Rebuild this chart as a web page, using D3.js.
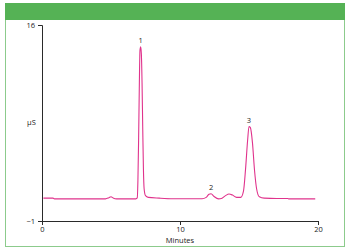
<!DOCTYPE html>
<html>
<head>
<meta charset="utf-8">
<script src="https://cdn.jsdelivr.net/npm/d3@7"></script>
<style>
  body { margin: 0; background: #fff; }
  svg { display: block; font-family: "Open Sans", sans-serif; }
  .axis path, .axis line { stroke: #2a2a2a; }
  .axis text { fill: #222; font-size: 7.5px; font-family: "Open Sans", sans-serif; }
</style>
</head>
<body>
<svg id="chart"></svg>
<script>
// chromatogram: time in minutes, conductivity in µS
const TIME = [0.1, 0.8, 0.9, 4.6, 4.85, 5.0, 5.15, 5.4, 6.8, 6.9, 6.95, 7.0, 7.05, 7.1, 7.15, 7.2,
  7.25, 7.3, 7.35, 7.4, 7.5, 7.7, 8.5, 9.5, 11.6, 11.9, 12.1, 12.25, 12.45, 12.8, 13.0, 13.3,
  13.55, 13.8, 14.1, 14.4, 14.6, 14.75, 14.9, 15.0, 15.1, 15.25, 15.4, 15.55, 15.75, 16.1, 17.0,
  17.8, 17.9, 19.8]
const SIGNAL = [0.98, 0.98, 0.92, 0.92, 1.02, 1.1, 1.0, 0.92, 0.92, 1.0, 2.5, 6, 10.5, 13.8, 14.1, 13.5,
  11, 7, 3.5, 1.8, 1.2, 1.05, 0.98, 0.93, 0.93, 1.05, 1.32, 1.36, 1.15, 0.92, 0.95, 1.2,
  1.34, 1.25, 1.05, 1.05, 1.6, 3.5, 6, 7.2, 7.1, 5.8, 3.4, 1.8, 1.1, 0.98, 0.95,
  0.95, 0.92, 0.92]
const PEAKS = [
  { label: '1', time: 7.15, value: 14.1 },
  { label: '2', time: 12.25, value: 1.36 },
  { label: '3', time: 15.0, value: 7.2 }
]
const X_TICKS = [0, 10, 20]
const Y_TICKS = [16, -1]

const width = 350
const height = 252

const svg = d3.select('#chart')
  .attr('width', width)
  .attr('height', height)

// frame with green header band
svg.append('rect')
  .attr('x', 5.5).attr('y', 3.5)
  .attr('width', 339).attr('height', 243)
  .attr('fill', '#fff')
  .attr('stroke', '#8ccb8c')
svg.append('rect')
  .attr('x', 5).attr('y', 3)
  .attr('width', 340).attr('height', 17)
  .attr('fill', '#55b255')

const x = d3.scaleLinear().domain([0, 20]).range([42, 318])
const y = d3.scaleLinear().domain([-1, 16]).range([221, 25])

svg.append('g')
  .attr('class', 'axis')
  .attr('transform', `translate(0,${y(-1)})`)
  .call(d3.axisBottom(x).tickValues(X_TICKS).tickSize(4).tickSizeOuter(4).tickFormat(d3.format('d')))
  .call(g => g.selectAll('text').attr('y', 5).attr('dy', '0.8em'))

svg.append('g')
  .attr('class', 'axis')
  .attr('transform', `translate(${x(0)},0)`)
  .call(d3.axisLeft(y).tickValues(Y_TICKS).tickSize(4).tickSizeOuter(4)
    .tickFormat(d => d < 0 ? '\u2212' + Math.abs(d) : d))

svg.append('text')
  .attr('x', x(10)).attr('y', 243)
  .attr('text-anchor', 'middle')
  .style('font-size', '7.5px').style('fill', '#222')
  .text('Minutes')

svg.append('text')
  .attr('x', 27).attr('y', y(7.5) + 2)
  .style('font-size', '7.5px').style('fill', '#222')
  .text('µS')

const points = TIME.map((t, i) => [t, SIGNAL[i]])

const line = d3.line()
  .x(d => x(d[0]))
  .y(d => y(d[1]))
  .curve(d3.curveMonotoneX)

svg.append('path')
  .datum(points)
  .attr('d', line)
  .attr('fill', 'none')
  .attr('stroke', '#e0338c')
  .attr('stroke-width', 1.1)

svg.selectAll('.peak')
  .data(PEAKS)
  .enter().append('text')
  .attr('class', 'peak')
  .attr('x', d => x(d.time))
  .attr('y', d => y(d.value) - 3.5)
  .attr('text-anchor', 'middle')
  .style('font-size', '7.5px').style('fill', '#222')
  .text(d => d.label)
</script>
</body>
</html>
